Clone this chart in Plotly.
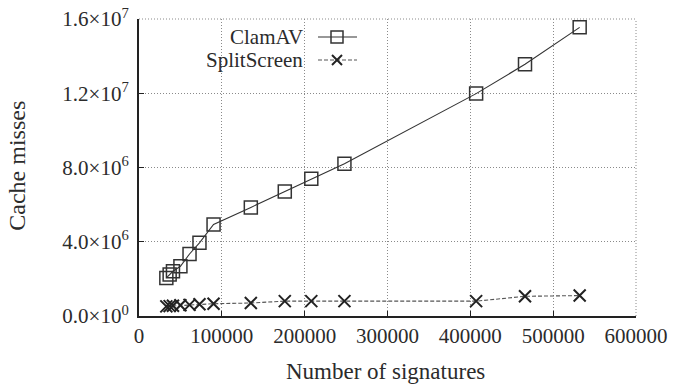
import plotly.graph_objects as go

# ---- data ----
signatures = [33000, 37000, 41000, 50000, 61000, 73000, 90000, 135000,
              176000, 208000, 248000, 407000, 466000, 532000]
clamav_misses = [2.05e6, 2.23e6, 2.41e6, 2.68e6, 3.34e6, 3.94e6, 4.93e6, 5.85e6,
                 6.71e6, 7.39e6, 8.20e6, 11.98e6, 13.56e6, 15.55e6]
splitscreen_misses = [0.52e6, 0.53e6, 0.55e6, 0.58e6, 0.60e6, 0.63e6, 0.66e6, 0.70e6,
                      0.80e6, 0.80e6, 0.80e6, 0.80e6, 1.06e6, 1.10e6]
series_names = ["ClamAV", "SplitScreen"]
x_ticks = [0, 100000, 200000, 300000, 400000, 500000, 600000]
x_tick_labels = ["0", "100000", "200000", "300000", "400000", "500000", "600000"]
y_ticks = [0, 4e6, 8e6, 12e6, 16e6]
y_tick_labels = ["0.0×10<sup>0</sup>", "4.0×10<sup>6</sup>", "8.0×10<sup>6</sup>",
                 "1.2×10<sup>7</sup>", "1.6×10<sup>7</sup>"]
x_title = "Number of signatures"
y_title = "Cache misses"

FONT = "Liberation Serif"
INK = "#2b2b2b"
GRID = "#8a8a8a"

fig = go.Figure()
fig.add_trace(go.Scatter(
    x=signatures, y=clamav_misses, name=series_names[0], mode="lines+markers",
    line=dict(color="#333333", width=1.1),
    marker=dict(symbol="square-open", size=13, color="#333333", line=dict(width=1.5)),
    showlegend=False, cliponaxis=False))
fig.add_trace(go.Scatter(
    x=signatures, y=splitscreen_misses, name=series_names[1], mode="lines+markers",
    line=dict(color="#555555", width=1.1, dash="4px,2px"),
    marker=dict(symbol="x-thin-open", size=12, color="#222222", line=dict(width=2, color="#222222")),
    showlegend=False, cliponaxis=False))

L, R, T, B = 139, 38, 19, 73.5
W, H = 674, 390
pw, ph = W - L - R, H - T - B

def px2paper(px, py):
    return (px - L) / pw, (H - B - py) / ph

shapes = [
    # top and right dotted grid borders (gnuplot style)
    dict(type="line", xref="paper", yref="paper", x0=0, x1=1, y0=1, y1=1,
         line=dict(color=GRID, width=1, dash="1px,2px")),
    dict(type="line", xref="paper", yref="paper", x0=1, x1=1, y0=0, y1=1,
         line=dict(color=GRID, width=1, dash="1px,2px")),
]
annotations = []
# custom gnuplot-style legend: text then sample
legend_rows = [(37, "solid", "#333333", "square"), (60, "4px,2px", "#555555", "x")]
for (py, dash, col, sym), name in zip(legend_rows, series_names):
    x0, y0 = px2paper(318, py)
    x1, _ = px2paper(357, py)
    shapes.append(dict(type="line", xref="paper", yref="paper", x0=x0, x1=x1, y0=y0, y1=y0,
                       line=dict(color=col, width=1.1, dash=dash)))
    cx, cy = 337, py
    if sym == "square":
        a, b = px2paper(cx - 6, cy + 6)
        c, d = px2paper(cx + 6, cy - 6)
        shapes.append(dict(type="rect", xref="paper", yref="paper", x0=a, y0=b, x1=c, y1=d,
                           line=dict(color="#333333", width=1.5), fillcolor="rgba(0,0,0,0)"))
    else:
        for dx in (-1, 1):
            a, b = px2paper(cx - 5, cy - 5 * dx)
            c, d = px2paper(cx + 5, cy + 5 * dx)
            shapes.append(dict(type="line", xref="paper", yref="paper", x0=a, y0=b, x1=c, y1=d,
                               line=dict(color="#222222", width=2)))
    tx, ty = px2paper(305, py)
    annotations.append(dict(text=name, xref="paper", yref="paper", x=tx, y=ty,
                            xanchor="right", yanchor="middle", showarrow=False,
                            font=dict(family=FONT, size=21, color=INK)))

ax, ay = px2paper(385, 372)
annotations.append(dict(text=x_title, xref="paper", yref="paper", x=ax, y=ay,
                        xanchor="center", yanchor="middle", showarrow=False,
                        font=dict(family=FONT, size=23, color=INK)))
bx, by = px2paper(17, 166)
annotations.append(dict(text=y_title, xref="paper", yref="paper", x=bx, y=by, textangle=-90,
                        xanchor="center", yanchor="middle", showarrow=False,
                        font=dict(family=FONT, size=24, color=INK)))

grid = dict(showgrid=True, gridcolor=GRID, griddash="1px,2px", gridwidth=1)
fig.update_layout(
    width=W, height=H, margin=dict(l=L, r=R, t=T, b=B, autoexpand=False),
    paper_bgcolor="white", plot_bgcolor="white",
    font=dict(family=FONT, size=21, color=INK),
    shapes=shapes, annotations=annotations,
    xaxis=dict(range=[0, 600000], tickvals=x_ticks, ticktext=x_tick_labels, automargin=False,
               showline=True, linecolor="#222222", linewidth=2, ticks="inside", ticklen=5,
               tickcolor="#222222", zeroline=False, ticklabelstandoff=0, **grid),
    yaxis=dict(range=[0, 1.6e7], tickvals=y_ticks, ticktext=y_tick_labels, automargin=False,
               showline=True, linecolor="#222222", linewidth=2, ticks="inside", ticklen=5,
               tickcolor="#222222", zeroline=False, ticklabelstandoff=4, **grid),
)
fig.write_html("out.html")
